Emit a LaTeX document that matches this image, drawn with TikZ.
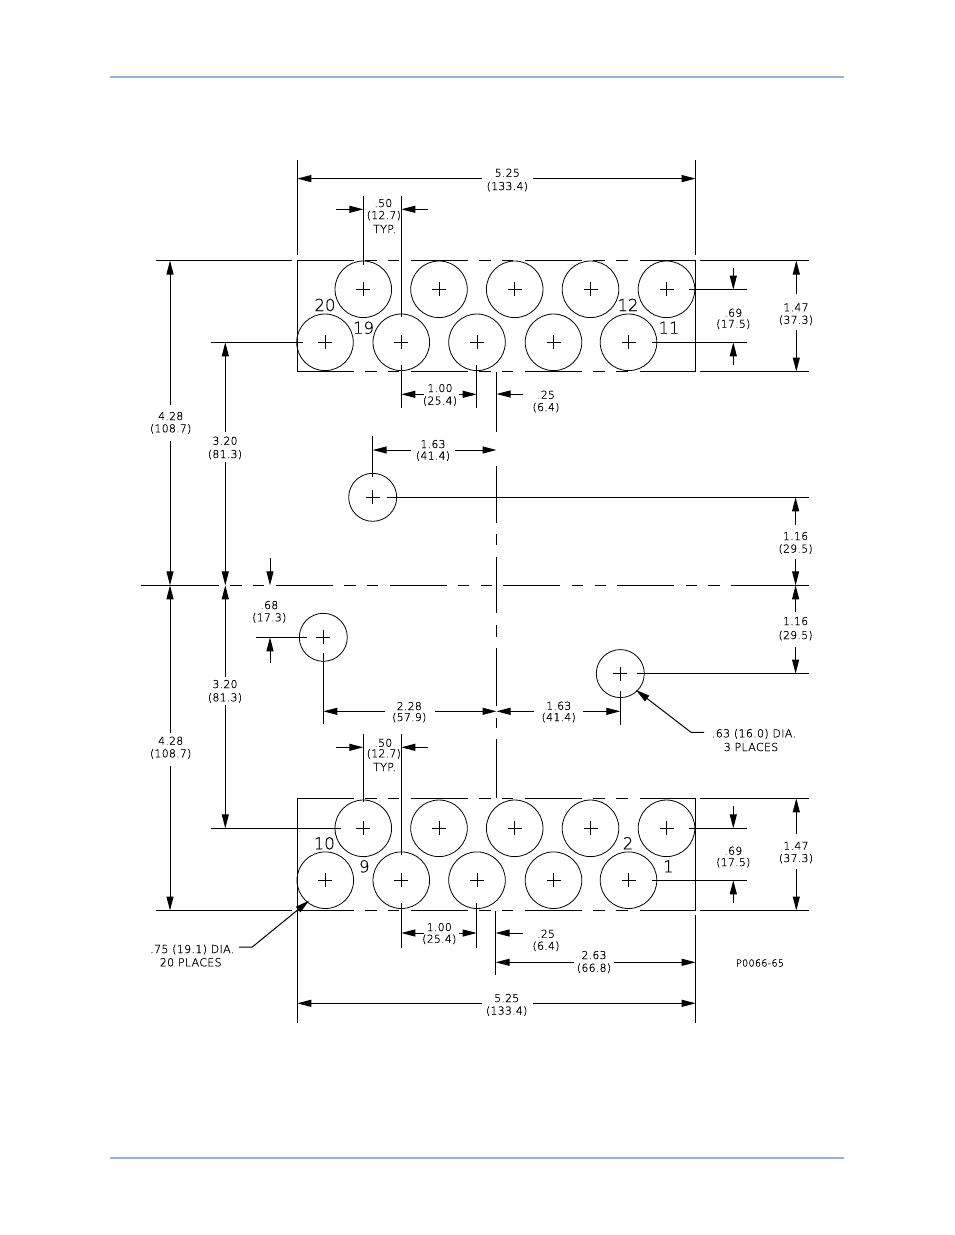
\documentclass[tikz,border=0pt]{standalone}
\usepackage{fontspec}
\usetikzlibrary{arrows.meta}
\setmainfont{DejaVu Sans}
\newfontfamily\cadfont[RawFeature={embolden=0.6},LetterSpace=3]{DejaVu Sans ExtraLight}
\newfontfamily\numfont[RawFeature={embolden=0.5}]{DejaVu Sans ExtraLight}
\definecolor{rulecol}{HTML}{95B3D7}
\tikzset{
  ln/.style={line width=1pt,black},
  dimline/.style={ln,-{Triangle[length=14pt,width=7pt]}},
  hole/.style={ln,line width=0.8pt},
  cadtxt/.style={anchor=base,inner sep=0pt,font=\cadfont\fontsize{10.8}{12}\selectfont},
  captxt/.style={anchor=base,inner sep=0pt,font=\cadfont\fontsize{11}{12}\selectfont},
  smalltxt/.style={anchor=base,inner sep=0pt,font=\cadfont\fontsize{9.6}{11}\selectfont},
  bignum/.style={anchor=base,inner sep=0pt,text=black,font=\numfont\fontsize{16.5}{18}\selectfont},
  hrule/.style={line width=2pt,rulecol}
}
\begin{document}
\begin{tikzpicture}[x=1pt,y=-1pt]
\useasboundingbox (0,0) rectangle (954,1235);
\draw[hrule] (110,76.5) -- (844,76.5);
\draw[hrule] (110,1158) -- (844,1158);
% holes
\foreach \cx/\cy/\id in {363.3/289.3/a1,439/289.3/a2,514.7/289.3/a3,590.5/289.3/a4,666.5/289.3/a5,
  325/342.3/b1,401.3/342.3/b2,477/342.3/b3,553.5/342.3/b4,628.5/342.3/b5,
  363.3/828.3/c1,439/828.3/c2,514.7/828.3/c3,590.5/828.3/c4,666.5/828.3/c5,
  325.3/880.2/d1,401.3/880.2/d2,477/880.2/d3,553.5/880.2/d4,628.5/880.2/d5}{
  \draw[hole] (\cx,\cy) circle (28.3);
  \draw[hole] (\cx-7,\cy) -- (\cx+7,\cy) (\cx,\cy-7) -- (\cx,\cy+7);
}
\foreach \cx/\cy in {372.7/497.3,323.3/637.3,620.3/673.6}{
  \draw[hole] (\cx,\cy) circle (24);
  \draw[hole] (\cx-7,\cy) -- (\cx+7,\cy) (\cx,\cy-7) -- (\cx,\cy+7);
}
% block outlines: broken long edges
\foreach \yy in {260.5,371.5,798.3,910.5}{
  \foreach \xa/\xb in {297.3/354,365/377,388/399,411/468,479/491,502/513,525/582,593/605,616/628,640/695.7}{
    \draw[ln] (\xa,\yy) -- (\xb,\yy);
  }
}
\foreach \ya/\yb in {260.5/371.5,798.3/910.5}{
  \draw[ln] (297.3,\ya) -- (297.3,\yb) (695.7,\ya) -- (695.7,\yb);
}
% centre lines
\foreach \xa/\xb in {141/219,230/242,253/264,276/333,344/356,367/378,390/447,458/469,481/492,503/560,572/583,595/606,617/674,686/697,708/720,731/809}{
  \draw[ln] (\xa,585.3) -- (\xb,585.3);
}
\foreach \ya/\yb in {372/432,466/523,534/544.5,557/613,625/637,648/706,718/728,739/798}{
  \draw[ln] (496.5,\ya) -- (496.5,\yb);
}
% extension lines
\foreach \xa/\ya/\xb/\yb in {
  297.3/160/297.3/255, 695.7/160/695.7/255,
  297.3/911/297.3/1022.5, 695.7/915/695.7/1022.5,
  363.3/196/363.3/265, 401.3/196/401.3/316.7,
  363.3/734/363.3/802, 401.3/734/401.3/855,
  401.3/365/401.3/408, 476.7/365/476.7/408,
  401.3/903/401.3/947.7, 476.7/903/476.7/947.7,
  495.6/911/495.6/974.5,
  372.7/436/372.7/477, 387/497.3/809/497.3,
  637.3/673.6/809/673.6, 620.3/691/620.3/725,
  323.3/653/323.3/724, 256/637.3/306.7/637.3,
  156/260.5/291.5/260.5, 156/910.5/291.5/910.5,
  211/342.3/302.7/342.3, 211/828.3/340.7/828.3,
  689/289.7/746.7/289.7, 652.3/342.3/746.7/342.3,
  689/828.3/746.7/828.3, 652.3/880.3/746.7/880.3,
  700/260.5/809/260.5, 700/371.5/809/371.5,
  700/798.3/809/798.3, 700/910.5/809/910.5}{
  \draw[ln] (\xa,\ya) -- (\xb,\yb);
}
% dimension lines with an arrow head at the second point
\foreach \xa/\ya/\xb/\yb in {
  482/178.6/297.3/178.6, 533/178.6/695.7/178.6,
  482/1003.3/297.3/1003.3, 533/1003.3/695.7/1003.3,
  336/209.3/363.3/209.3, 427.7/209.3/401.3/209.3,
  336/747.3/363.3/747.3, 427.7/747.3/401.3/747.3,
  424/394.3/401.3/394.3, 459/394.3/476.7/394.3,
  424/933/401.3/933, 459/933/476.7/933,
  523.3/394/496.5/394, 522.7/933/495.6/933,
  574/962.3/495.6/962.3, 614.3/962.3/695.7/962.3,
  411/450/372.7/450, 455/450/496.5/450,
  534/711.3/496.5/711.3, 583/711.3/620.3/711.3,
  385/711.3/323.3/711.3, 435/711.3/496.5/711.3,
  170/405/170/260.5, 170/441/170/585.3,
  170/733/170/585.3, 170/766/170/910.5,
  225.3/432/225.3/342.3, 225.3/462/225.3/585.3,
  225.3/677/225.3/585.3, 225.3/705/225.3/828.3,
  270/558.3/270/585.3, 270/663.3/270/637.3,
  795.6/524.6/795.6/497.3, 795.6/559/795.6/585.3,
  795.6/611.7/795.6/585.3, 795.6/647.3/795.6/673.6,
  733.3/267.7/733.3/289.7, 733.3/365/733.3/342.3,
  733.3/806/733.3/828.3, 733.3/903.3/733.3/880.3,
  796.3/294.3/796.3/260.5, 796.3/330/796.3/371.5,
  796.3/834/796.3/798.3, 796.3/869/796.3/910.5}{
  \draw[dimline] (\xa,\ya) -- (\xb,\yb);
}
% leaders
\draw[dimline] (239,947) -- (252.3,947) -- (309,900.7);
\draw[dimline] (704,732.3) -- (691,732.3) -- (636,690);
% dimension text
\foreach \id/\tx/\ty/\tt in {
  t1/507.3/176.7/5.25, t2/507.3/190/(133.4),
  t3/383.3/207/.50, t4/383.8/219/(12.7),
  t5/440/392/1.00, t6/440/404.5/(25.4),
  t7/546/398.7/.25, t8/546/411/(6.4),
  t9/433/448/1.63, t10/433/459.5/(41.4),
  t11/170.7/420/4.28, t12/170.7/432.3/(108.7),
  t13/225/444.7/3.20, t14/225/458/(81.3),
  t15/733.3/316.7/.69, t16/733.3/327.7/(17.5),
  t17/796/311.3/1.47, t18/796/323.7/(37.3),
  t19/795.6/540/1.16, t20/795.6/552.5/(29.5),
  t21/795.6/625/1.16, t22/795.6/639/(29.5),
  t23/269.3/609/.68, t24/269.3/621.3/(17.3),
  t25/409.3/710/2.28, t26/409.3/721/(57.9),
  t27/558.7/709.7/1.63, t28/558.7/721/(41.4),
  t29/170.7/744.7/4.28, t30/170.7/757.3/(108.7),
  t31/225/688/3.20, t32/225/701.3/(81.3),
  t33/383.3/746.7/.50, t34/383.8/757.3/(12.7),
  t35/733.3/854.7/.69, t36/733.3/866/(17.5),
  t37/796/849.7/1.47, t38/796/862/(37.3),
  t39/439.3/931/1.00, t40/439.3/942.7/(25.4),
  t41/546/937.7/.25, t42/546/949.7/(6.4),
  t43/594/959/2.63, t44/594/971.7/(66.8),
  t45/506.7/1002/5.25, t46/506.7/1014.5/(133.4)}{
  \node[cadtxt] (\id) at (\tx,\ty) {\tt};
}
\node[captxt] (typa) at (384.6,233) {TYP.};
\node[captxt] (typb) at (384.6,771) {TYP.};
\node[captxt] (lab75) at (192.3,953) {.75 (19.1) DIA.};
\node[captxt] (lab20) at (190.7,966.3) {20 PLACES};
\node[captxt] (lab63) at (754,737.3) {.63 (16.0) DIA.};
\node[captxt] (lab3) at (751,751) {3 PLACES};
\node[smalltxt] (pnum) at (760,966.5) {P0066-65};
% terminal numbers
\foreach \id/\tx/\ty/\tt in {n20/325/311/20,n19/363.5/333.7/19,n12/628/311/12,n11/669/333.7/11,
  n10/324.3/849.3/10,n9/364.3/872.3/9,n2/628/849.3/2,n1/668.3/872.3/1}{
  \node[bignum] (\id) at (\tx,\ty) {\tt};
}
\end{tikzpicture}
\end{document}
